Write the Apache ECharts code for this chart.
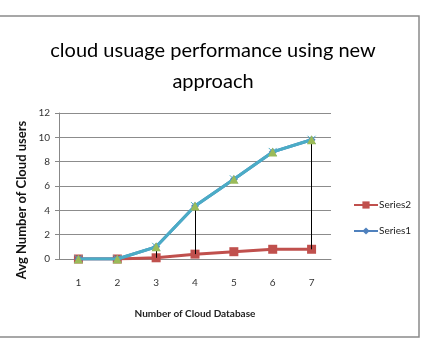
<!DOCTYPE html>
<html><head><meta charset="utf-8">
<script src="https://cdn.jsdelivr.net/npm/echarts@6/dist/echarts.min.js"></script>
<style>html,body{margin:0;padding:0;background:#fff}#c{width:427px;height:348px}</style>
</head><body><div id="c"></div>
<script>
const categories = ['1','2','3','4','5','6','7'];
const series1 = [0, 0, 1.0, 4.35, 6.55, 8.8, 9.8];
const series2 = [0, 0, 0.1, 0.4, 0.6, 0.8, 0.8];
const series3 = [0, 0, 1.0, 4.35, 6.55, 8.8, 9.8];
const series4 = [0, 0, 1.0, 4.35, 6.55, 8.8, 9.8];
const dropIdx = [2, 3, 6];
const yTicks = [0, 2, 4, 6, 8, 10, 12];

const FONT = 'Lato';
const chart = echarts.init(document.getElementById('c'), null, {renderer: 'canvas'});
const dropLines = dropIdx.map(i => [
  {coord: [categories[i], series2[i]]},
  {coord: [categories[i], series4[i]]}
]);
chart.setOption({
  animation: false,
  backgroundColor: '#fff',
  title: {
    text: 'cloud usuage performance using new\napproach',
    left: 208, top: 30, textAlign: 'center',
    textStyle: {fontFamily: FONT, fontSize: 20, fontWeight: 'normal', color: '#000', lineHeight: 31}
  },
  graphic: [
    {type: 'rect', shape: {x: -5, y: 16, width: 424, height: 321}, style: {fill: 'none', stroke: '#8a8a8a', lineWidth: 1.5}, silent: true},
    {type: 'text', x: 22, y: 200, rotation: Math.PI / 2, silent: true,
     style: {text: 'Avg Number of Cloud users', fontFamily: FONT, fontSize: 13, fontWeight: 'bold', fill: '#111', align: 'center', verticalAlign: 'middle'}}
  ],
  legend: {
    data: ['Series2', 'Series1'], orient: 'vertical', left: 348, top: 195,
    itemWidth: 24, itemHeight: 9, itemGap: 16,
    textStyle: {fontFamily: FONT, fontSize: 10, color: '#222', padding: [0,0,0,-4]}
  },
  grid: {left: 59, right: 96, top: 113, bottom: 89},
  xAxis: {
    type: 'category', data: categories, boundaryGap: true,
    name: 'Number of Cloud Database', nameLocation: 'middle', nameGap: 50,
    nameTextStyle: {fontFamily: FONT, fontSize: 10, fontWeight: 'bold', color: '#222'},
    axisLine: {lineStyle: {color: '#888'}}, axisTick: {show: false},
    axisLabel: {fontFamily: FONT, fontSize: 10, color: '#333', margin: 19}
  },
  yAxis: {
    type: 'value', min: 0, max: 12, interval: 2,
    axisLine: {show: true, lineStyle: {color: '#888'}},
    axisTick: {show: true, length: 4, lineStyle: {color: '#888'}},
    axisLabel: {fontFamily: FONT, fontSize: 10, color: '#333', margin: 9},
    splitLine: {lineStyle: {color: '#8c8c8c', width: 1}}
  },
  series: [
    {name: 'Series2', type: 'line', data: series2, z: 2, color: '#C0504D',
     symbol: 'rect', symbolSize: 9, lineStyle: {width: 3, color: '#C0504D'},
     itemStyle: {color: '#C0504D'},
     markLine: {silent: true, symbol: 'none', label: {show: false},
       lineStyle: {color: '#000', width: 1, type: 'solid'}, data: dropLines}},
    {name: 'Series1', type: 'line', data: series1, z: 3, color: '#4F81BD',
     symbol: 'diamond', symbolSize: 8, lineStyle: {width: 3, color: '#4F81BD'},
     itemStyle: {color: '#4F81BD'}},
    {name: 'Series4', type: 'line', data: series4, z: 4,
     symbol: 'path://M0,0L10,10M10,0L0,10', symbolSize: 8, lineStyle: {width: 3, color: '#4BACC6'},
     itemStyle: {color: 'none', borderColor: '#4BACC6', borderWidth: 1}},
    {name: 'Series3', type: 'line', data: series3, z: 5,
     symbol: 'triangle', symbolSize: 9, lineStyle: {width: 0, opacity: 0},
     itemStyle: {color: '#9BBB59'}}
  ]
});
</script></body></html>
